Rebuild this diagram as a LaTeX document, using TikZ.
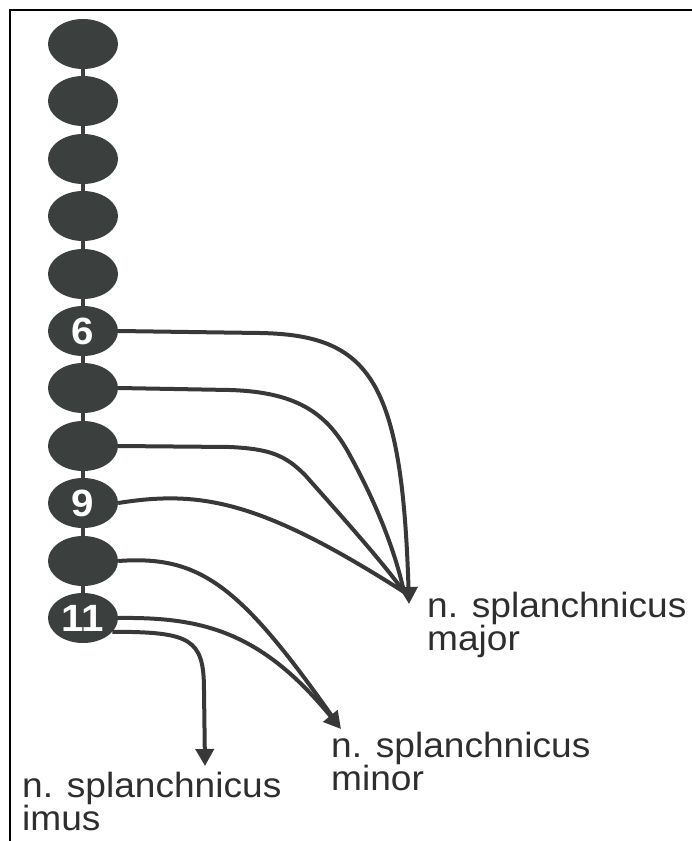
\documentclass[tikz,border=0pt]{standalone}
\usepackage{fontspec}
\setmainfont{Liberation Sans}[FakeStretch=1.06]
\usetikzlibrary{shapes.geometric,arrows.meta}
\definecolor{vgray}{HTML}{3B3F3D}
\definecolor{ngray}{HTML}{383838}

\begin{document}
\begin{tikzpicture}[x=1pt, y=-1pt,
    vert/.style={ellipse, fill=vgray, minimum width=70pt, minimum height=50pt, inner sep=0pt,
                 text=white, font=\fontsize{38}{38}\selectfont\bfseries},
    spine/.style={draw=vgray, line width=4pt},
    nerve/.style={draw=ngray, line width=4pt},
    ar/.style={nerve, -{Triangle[length=17pt,width=18pt]}},
    lbl/.style={anchor=north west, inner sep=0pt, align=left, text=black!82,
                font=\fontsize{35}{33}\selectfont}]
    \useasboundingbox (0,0) rectangle (692,841);
    \draw[line width=2pt] (10,841) -- (10,10) -- (692,10);

    % vertebrae
    \node[vert] (v1)  at (83,44)  {};
    \node[vert] (v2)  at (83,101) {};
    \node[vert] (v3)  at (83,159) {};
    \node[vert] (v4)  at (83,216) {};
    \node[vert] (v5)  at (83,274) {};
    \node[vert] (v6)  at (83,331) {6};
    \node[vert] (v7)  at (83,388) {};
    \node[vert] (v8)  at (83,446) {};
    \node[vert] (v9)  at (83,503) {9};
    \node[vert] (v10) at (83,561) {};
    \node[vert] (v11) at (83,618) {11};
    \foreach \a/\b in {1/2,2/3,3/4,4/5,5/6,6/7,7/8,8/9,9/10,10/11}
      \draw[spine] (v\a.south) -- (v\b.north);

    % labels and tips
    \node[lbl] (major) at (427,592) {n. splanchnicus\\major};
    \node[lbl] (minor) at (331,732) {n. splanchnicus\\minor};
    \node[lbl] (imus)  at (22,772)  {n. splanchnicus\\imus};
    \coordinate (majtip)  at (409,604);
    \coordinate (majjoin) at (404,592);
    \coordinate (mintip)  at (341,729);
    \coordinate (minjoin) at (334,719);
    \coordinate (imustip) at (205,766);

    % nerves
    \draw[ar] (v6.east) -- (260,333) .. controls (370,335) and (402,380) .. (majtip);
    \draw[nerve] (v7.east) -- (230,390) .. controls (295,392) and (325,412) .. (347,450)
                 .. controls (375,500) and (395,550) .. (majjoin);
    \draw[nerve] (v8.east) -- (230,447) .. controls (270,449) and (285,455) .. (305,475)
                 .. controls (345,520) and (385,565) .. (majjoin);
    \draw[nerve] (v9.east) .. controls (200,490) and (260,500) .. (majjoin);
    \draw[nerve] (v10.east) .. controls (200,555) and (240,585) .. (minjoin);
    \draw[ar] (v11.east) .. controls (200,617) and (260,630) .. (mintip);
    \draw[ar] (v11.-25) .. controls (190,632) and (204,638) .. (204,690) -- (imustip);
  \end{tikzpicture}
\end{document}
